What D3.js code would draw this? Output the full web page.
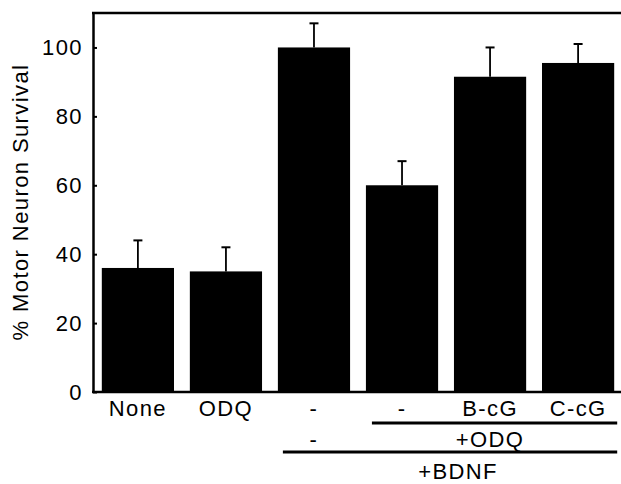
<!DOCTYPE html>
<html>
<head>
<meta charset="utf-8">
<script src="https://cdn.jsdelivr.net/npm/d3@7"></script>
<style>
  body { margin: 0; background: #fff; }
  svg text { font-family: "Liberation Sans", Arial, Helvetica, sans-serif; fill: #000; letter-spacing: 1.4px; }
</style>
</head>
<body>
<svg id="chart" width="621" height="484"></svg>
<script>
// values
var conditions = ["None", "ODQ", "BDNF", "BDNF+ODQ", "BDNF+ODQ+B-cG", "BDNF+ODQ+C-cG"];
var rowLabels = ["None", "ODQ", "-", "-", "B-cG", "C-cG"];
var survival = [36, 35, 100, 60, 91.5, 95.5];
var sem = [8, 7, 7, 7, 8.5, 5.5];
var yTicks = [0, 20, 40, 60, 80, 100];
var yLabel = "% Motor Neuron Survival";

var svg = d3.select("#chart");
var fs = "22px";

var y = d3.scaleLinear().domain([0, 110]).range([392, 13]);
var x = d3.scaleBand().domain(conditions).range([93, 623])
  .paddingInner(0.18).paddingOuter(0.1);

// bars
svg.selectAll("rect.bar")
  .data(survival)
  .enter().append("rect")
  .attr("class", "bar")
  .attr("x", function(d, i) { return x(conditions[i]); })
  .attr("y", function(d) { return y(d); })
  .attr("width", x.bandwidth())
  .attr("height", function(d) { return y(0) - y(d); })
  .style("fill", "#000");

// error bars (upper only)
var eb = svg.selectAll("g.err")
  .data(survival)
  .enter().append("g")
  .attr("class", "err")
  .attr("transform", function(d, i) { return "translate(" + (x(conditions[i]) + x.bandwidth() / 2) + ",0)"; });

eb.append("line")
  .attr("x1", 0).attr("x2", 0)
  .attr("y1", function(d) { return y(d); })
  .attr("y2", function(d, i) { return y(d + sem[i]); })
  .style("stroke", "#000").style("stroke-width", 1.8);

eb.append("line")
  .attr("x1", -4.5).attr("x2", 4.5)
  .attr("y1", function(d, i) { return y(d + sem[i]); })
  .attr("y2", function(d, i) { return y(d + sem[i]); })
  .style("stroke", "#000").style("stroke-width", 2);

// y axis
var yAxis = d3.axisLeft(y).tickValues(yTicks).tickSizeInner(-4).tickSizeOuter(0).tickPadding(10);
var gy = svg.append("g").attr("transform", "translate(93,0)").call(yAxis);
gy.select(".domain").style("stroke-width", 2.5);
gy.selectAll(".tick line").style("stroke-width", 2);
gy.selectAll(".tick text").style("font-size", fs).attr("fill", "#000");

// top and bottom frame lines
svg.append("line")
  .attr("x1", 92).attr("x2", 621)
  .attr("y1", y(110)).attr("y2", y(110))
  .style("stroke", "#000").style("stroke-width", 2.5);
svg.append("line")
  .attr("x1", 92).attr("x2", 621)
  .attr("y1", y(0)).attr("y2", y(0))
  .style("stroke", "#000").style("stroke-width", 2.5);

// y label
svg.append("text")
  .attr("transform", "translate(28,202) rotate(-90)")
  .attr("text-anchor", "middle")
  .style("font-size", fs)
  .text(yLabel);

// first row of category labels
svg.selectAll("text.cat")
  .data(rowLabels)
  .enter().append("text")
  .attr("class", "cat")
  .attr("x", function(d, i) { return x(conditions[i]) + x.bandwidth() / 2; })
  .attr("y", y(0) + 24)
  .attr("text-anchor", "middle")
  .style("font-size", fs)
  .text(function(d) { return d; });

// second row: "-" under BDNF-only, and +ODQ group
svg.append("text")
  .attr("x", x(conditions[2]) + x.bandwidth() / 2)
  .attr("y", y(0) + 55)
  .attr("text-anchor", "middle")
  .style("font-size", fs)
  .text("-");

svg.append("line")
  .attr("x1", x(conditions[3]) + 6).attr("x2", x(conditions[5]) + x.bandwidth() + 3)
  .attr("y1", y(0) + 31).attr("y2", y(0) + 31)
  .style("stroke", "#000").style("stroke-width", 3);

svg.append("text")
  .attr("x", (x(conditions[3]) + x(conditions[5]) + x.bandwidth()) / 2)
  .attr("y", y(0) + 55)
  .attr("text-anchor", "middle")
  .style("font-size", fs)
  .text("+ODQ");

// third row: +BDNF group
svg.append("line")
  .attr("x1", x(conditions[2]) + 5).attr("x2", x(conditions[5]) + x.bandwidth() + 3)
  .attr("y1", y(0) + 60).attr("y2", y(0) + 60)
  .style("stroke", "#000").style("stroke-width", 3);

svg.append("text")
  .attr("x", (x(conditions[2]) + x(conditions[5]) + x.bandwidth()) / 2 + 12)
  .attr("y", y(0) + 87)
  .attr("text-anchor", "middle")
  .style("font-size", fs)
  .text("+BDNF");
</script>
</body>
</html>
